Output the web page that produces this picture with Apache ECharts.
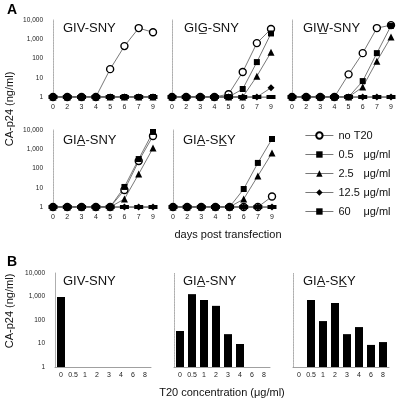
<!DOCTYPE html>
<html><head><meta charset="utf-8">
<script src="https://cdn.jsdelivr.net/npm/echarts/dist/echarts.min.js"></script>
<style>html,body{margin:0;padding:0;background:#fff}#c{width:400px;height:402px}</style>
</head><body><div id="c"></div>
<script>
// ---------- data ----------
const days = ['0','2','3','4','5','6','7','9'];
const concs = ['0','0.5','1','2','3','4','6','8'];
const seriesNames = ['no T20','0.5 μg/ml','2.5 μg/ml','12.5 μg/ml','60 μg/ml'];
const logTicks = ['1','10','100','1,000','10,000'];

const panelTitles = ['GIV-SNY','GIG\u0332-SNY','GIW\u0332-SNY','GIA\u0332-SNY','GIA\u0332-SK\u0332Y'];
const barTitles = ['GIV-SNY','GIA\u0332-SNY','GIA\u0332-SK\u0332Y'];

// panel A: CA-p24 (ng/ml) per day, for [no T20, 0.5, 2.5, 12.5, 60]
const givSny = [
  [1,1,1,1,28,440,3800,2300],
  [1,1,1,1,1,1,1,1],
  [1,1,1,1,1,1,1,1],
  [1,1,1,1,1,1,1,1],
  [1,1,1,1,1,1,1,1]
];
const gigSny = [
  [1,1,1,1,1.4,20,630,3400],
  [1,1,1,1,1,2.6,65,2000],
  [1,1,1,1,1,1,12,210],
  [1,1,1,1,1,1,1,3],
  [1,1,1,1,1,1,1,1]
];
const giwSny = [
  [1,1,1,1,15,190,3800,5400],
  [1,1,1,1,1,6.7,190,5000],
  [1,1,1,1,1,3.3,73,1300],
  [1,1,1,1,1,1,1,1],
  [1,1,1,1,1,1,1,1]
];
const giaSny = [
  [1,1,1,1,1,7.6,245,4900],
  [1,1,1,1,1,11,310,7900],
  [1,1,1,1,1,2.6,52,1150],
  [1,1,1,1,1,1,1,1],
  [1,1,1,1,1,1,1,1]
];
const giaSky = [
  [1,1,1,1,1,1,1,3.5],
  [1,1,1,1,1,8.6,195,3400],
  [1,1,1,1,1,2.6,41,640],
  [1,1,1,1,1,1,1,1],
  [1,1,1,1,1,1,1,1]
];
// panel B: CA-p24 (ng/ml) per T20 concentration
const barGivSny = [950,null,null,null,null,null,null,null];
const barGiaSny = [34,1260,710,400,25,9.5,null,null];
const barGiaSky = [null,710,90,530,25,50,8.7,11.5];

// ---------- chart ----------
const FONT = 'Liberation Sans, Arial, sans-serif';
const panelsA = [givSny, gigSny, giwSny, giaSny, giaSky];
const barsB = [barGivSny, barGiaSny, barGiaSky];

const grids = [
  {left:53, top:20, width:100, height:77},
  {left:172, top:20, width:99, height:77},
  {left:292, top:20, width:99, height:77},
  {left:53, top:130, width:100, height:77},
  {left:173, top:130, width:99, height:77},
  {left:55, top:273, width:96, height:94},
  {left:174, top:273, width:96, height:94},
  {left:293, top:273, width:96, height:94}
];
const labeledY = [0,3,5];

const xAxes = grids.map((g,i)=>({
  gridIndex:i, type:'category',
  data: i<5 ? days : concs,
  boundaryGap: i>=5,
  axisLine:{show:true, lineStyle:{color:'#888', width:0.8}},
  axisTick:{show:false},
  axisLabel:{fontSize:7, color:'#222', fontFamily:FONT, margin: i<5 ? 7 : 5, interval:0}
}));
const yAxes = grids.map((g,i)=>({
  gridIndex:i, type:'log', logBase:10, min:1, max:10000,
  axisLine:{show:true, lineStyle:{color:'#999', width:0.8, type: i===5 ? 'solid' : 'dotted'}},
  axisTick:{show:false},
  splitLine:{show:false},
  axisLabel:{show: labeledY.includes(i), fontSize:6.5, color:'#222', fontFamily:FONT, margin:10,
    formatter: v => logTicks[Math.round(Math.log10(v))]}
}));

const symbolSpecs = [
  {symbol:'circle', symbolSize:7, itemStyle:{color:'#fff', borderColor:'#000', borderWidth:1.4}},
  {symbol:'rect', symbolSize:6, itemStyle:{color:'#000'}},
  {symbol:'triangle', symbolSize:7, itemStyle:{color:'#000'}},
  {symbol:'diamond', symbolSize:7, itemStyle:{color:'#000'}},
  {symbol:'rect', symbolSize:[9,4], itemStyle:{color:'#000'}}
];

const series = [];
panelsA.forEach((panel,pi)=>{
  panel.forEach((vals,si)=>{
    series.push(Object.assign({
      type:'line', name:seriesNames[si], xAxisIndex:pi, yAxisIndex:pi,
      data: vals, showAllSymbol:true,
      lineStyle:{color:'#555', width:0.8},
      emphasis:{disabled:true}, animation:false
    }, symbolSpecs[si]));
  });
});
barsB.forEach((vals,bi)=>{
  series.push({type:'bar', xAxisIndex:5+bi, yAxisIndex:5+bi, data:vals, barWidth:8,
    itemStyle:{color:'#000'}, animation:false});
});

const titlePos = [[63,22],[184,22],[303,22],[63,134],[183,134]];
const barTitlePos = [[63,275],[183,275],[303,275]];
const titles = [];
panelTitles.forEach((t,i)=>titles.push({text:t, left:titlePos[i][0], top:titlePos[i][1], padding:0,
  textStyle:{fontSize:13, fontWeight:'normal', color:'#111', fontFamily:FONT}}));
barTitles.forEach((t,i)=>titles.push({text:t, left:barTitlePos[i][0], top:barTitlePos[i][1], padding:0,
  textStyle:{fontSize:13, fontWeight:'normal', color:'#111', fontFamily:FONT}}));

const option = {
  animation:false,
  grid: grids,
  xAxis: xAxes,
  yAxis: yAxes,
  title: titles,
  legend: {
    orient:'vertical', left:300, top:125, itemWidth:28, itemHeight:8, itemGap:8,
    data: seriesNames, selectedMode:false,
    lineStyle:{width:0.8, color:'#555'},
    textStyle:{fontSize:11, color:'#111', fontFamily:FONT,
      rich:{n:{width:25, fontSize:11, fontFamily:FONT, color:'#111'}, u:{fontSize:11, fontFamily:FONT, color:'#111'}}},
    formatter: name => {
      if (name.indexOf(' μg/ml') < 0) return name;
      return '{n|' + name.replace(' μg/ml','') + '}{u|μg/ml}';
    }
  },
  graphic: [
    {type:'text', left:7, top:3, style:{text:'A', font:'bold 14px '+FONT, fill:'#000'}},
    {type:'text', left:7, top:255, style:{text:'B', font:'bold 14px '+FONT, fill:'#000'}},
    {type:'text', x:10, y:109, rotation:Math.PI/2, style:{text:'CA-p24 (ng/ml)', font:'11px '+FONT, fill:'#111', align:'center', verticalAlign:'middle'}},
    {type:'text', x:10, y:311, rotation:Math.PI/2, style:{text:'CA-p24 (ng/ml)', font:'11px '+FONT, fill:'#111', align:'center', verticalAlign:'middle'}},
    {type:'text', x:228, y:235, style:{text:'days post transfection', font:'11px '+FONT, fill:'#111', align:'center', verticalAlign:'middle'}},
    {type:'text', x:222, y:393, style:{text:'T20 concentration (μg/ml)', font:'11px '+FONT, fill:'#111', align:'center', verticalAlign:'middle'}}
  ],
  series: series
};
const chart = echarts.init(document.getElementById('c'), null, {renderer:'canvas'});
chart.setOption(option);
</script>
</body></html>
